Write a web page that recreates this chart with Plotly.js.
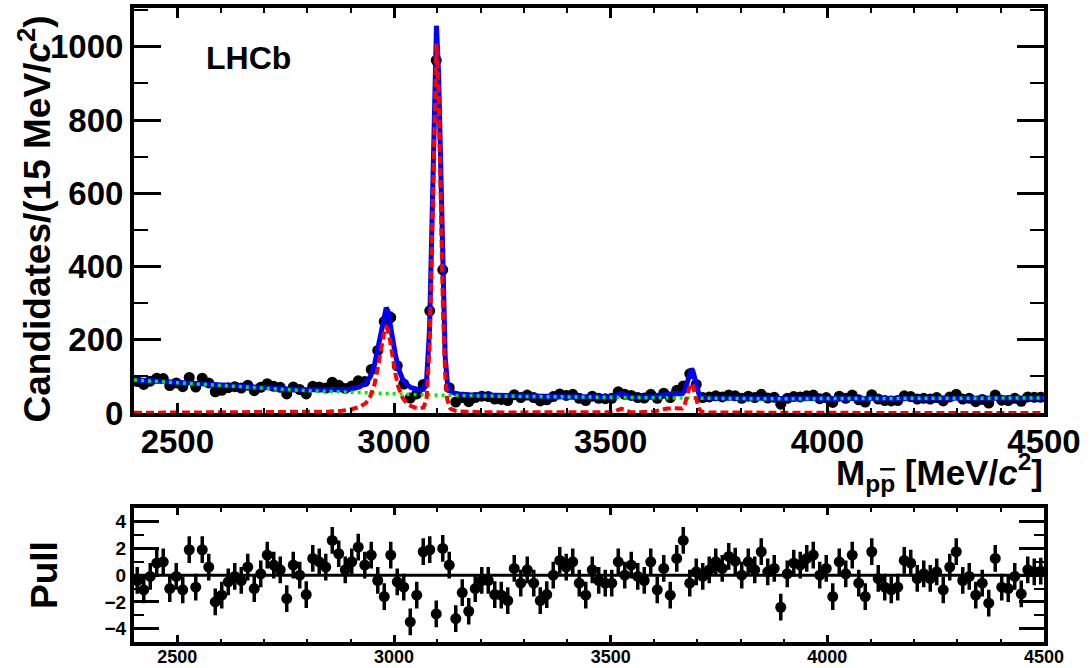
<!DOCTYPE html>
<html>
<head>
<meta charset="utf-8">
<script src="https://cdn.plot.ly/plotly-3.0.1.min.js"></script>
<style>html,body{margin:0;padding:0;background:#fff;}#chart{width:1090px;height:668px;}</style>
</head>
<body>
<div id="chart"></div>
<script>
// Bin centres (15 MeV bins from 2400 to 4500 MeV)
const massBins = [2407.5,2422.5,2437.5,2452.5,2467.5,2482.5,2497.5,2512.5,2527.5,2542.5,
2557.5,2572.5,2587.5,2602.5,2617.5,2632.5,2647.5,2662.5,2677.5,2692.5,
2707.5,2722.5,2737.5,2752.5,2767.5,2782.5,2797.5,2812.5,2827.5,2842.5,
2857.5,2872.5,2887.5,2902.5,2917.5,2932.5,2947.5,2962.5,2977.5,2992.5,
3007.5,3022.5,3037.5,3052.5,3067.5,3082.5,3097.5,3112.5,3127.5,3142.5,
3157.5,3172.5,3187.5,3202.5,3217.5,3232.5,3247.5,3262.5,3277.5,3292.5,
3307.5,3322.5,3337.5,3352.5,3367.5,3382.5,3397.5,3412.5,3427.5,3442.5,
3457.5,3472.5,3487.5,3502.5,3517.5,3532.5,3547.5,3562.5,3577.5,3592.5,
3607.5,3622.5,3637.5,3652.5,3667.5,3682.5,3697.5,3712.5,3727.5,3742.5,
3757.5,3772.5,3787.5,3802.5,3817.5,3832.5,3847.5,3862.5,3877.5,3892.5,
3907.5,3922.5,3937.5,3952.5,3967.5,3982.5,3997.5,4012.5,4027.5,4042.5,
4057.5,4072.5,4087.5,4102.5,4117.5,4132.5,4147.5,4162.5,4177.5,4192.5,
4207.5,4222.5,4237.5,4252.5,4267.5,4282.5,4297.5,4312.5,4327.5,4342.5,
4357.5,4372.5,4387.5,4402.5,4417.5,4432.5,4447.5,4462.5,4477.5,4492.5];

// Candidates per bin
const counts = [86,78,87,95,94,75,82,72,97,71,
95,82,58,62,69,72,68,76,61,70,
80,73,70,52,71,64,52,73,71,68,
84,76,67,74,88,86,119,171,250,261,
129,79,41,52,78,279,963,391,69,30,
42,31,42,46,45,38,37,34,50,42,
49,42,33,36,45,52,48,51,40,34,
46,40,39,40,58,51,48,42,41,51,
40,54,42,62,74,107,78,42,44,47,
44,49,47,40,46,42,51,41,43,24,
40,45,44,47,49,39,42,29,46,40,
49,36,30,50,38,34,33,34,47,45,
38,40,38,42,33,44,51,38,40,31,
37,27,49,35,34,40,32,44,43,43];

// Pull per bin
const pulls = [-0.4,-1.1,-0.1,0.9,1.0,-1.0,-0.1,-1.1,1.9,-0.9,
1.9,0.6,-2.0,-1.5,-0.5,-0.1,-0.4,0.6,-1.0,0.1,
1.5,0.75,0.4,-1.75,0.75,0.0,-1.45,1.25,1.0,0.6,
2.6,1.6,0.4,1.0,2.1,0.75,1.5,-0.4,-1.6,1.5,
-0.5,-0.9,-3.5,-1.5,1.75,1.9,-2.9,2.0,0.75,-3.25,
-1.3,-2.7,-1.0,-0.4,-0.4,-1.45,-1.5,-1.9,0.5,-0.6,
0.4,-0.6,-1.9,-1.45,0.0,1.1,0.6,1.0,-0.6,-1.5,
0.4,-0.4,-0.6,-0.6,1.0,0.0,0.75,-0.1,-0.4,1.0,
-1.1,0.5,-1.5,1.25,2.6,-0.6,0.25,-0.1,0.4,1.0,
0.5,1.4,1.05,0.0,1.0,0.4,1.75,0.25,0.5,-2.4,
0.1,0.9,0.75,1.25,1.5,0.0,0.5,-1.6,1.0,0.1,
1.5,-0.6,-1.6,1.75,-0.25,-0.9,-1.1,-0.9,1.1,0.9,
-0.25,0.1,-0.25,0.25,-1.1,0.6,1.75,-0.4,-0.1,-1.5,
-0.6,-2.1,1.25,-0.9,-1.0,-0.1,-1.4,0.4,0.25,0.3];

// Fit curves sampled along the mass axis
const curveMass = [2400,2450,2500,2550,2600,2650,2700,2750,2800,2850,2880,2900,2920,2935,2945,2955,2962,2968,2974,2979,2982,2986,2991,2997,3003,3010,3020,3030,3040,3050,3060,3068,3075,3082,3088,3093,3098,3103,3108,3113,3118,3123,3130,3140,3150,3175,3200,3250,3300,3350,3400,3450,3480,3495,3505,3515,3525,3535,3545,3560,3580,3600,3615,3630,3645,3655,3665,3670,3675,3680,3684,3687,3690,3694,3698,3703,3708,3715,3730,3760,3800,3900,4000,4100,4200,4300,4400,4500];
const curveTotal = [90.5,86.6,82.7,78.8,75,71.7,68.4,65.9,63.7,62.3,63.3,65.7,71.5,81.4,99,131.5,173.2,212.9,256.7,282.5,287.4,278.2,249,201.7,160.4,122.2,91.9,76.6,68.9,64.5,62.7,64.5,86.3,228.1,558,897.8,1057.7,922.5,617.4,329.2,156.1,83.9,59.7,54,51.7,49.9,48.8,47.4,46.3,45.4,44.5,43.6,43.1,43,44.2,49.4,53.5,49.2,43.9,43.1,43.7,45,48.85,52.7,53.55,52.55,52.45,59.5,77.05,102.7,118.2,120.9,113.9,95.1,73.4,54,45.1,42.1,41.3,40.7,40.1,39.5,39.4,39.5,39.8,40.25,40.7,41.2];
const curveBkg = [90,86,82,78,74,70.5,67,64,61,58.5,57,56,55.1,54.4,54,53.5,53.2,52.9,52.7,52.5,52.4,52.2,52,51.7,51.4,51.2,50.9,50.6,50.3,50,49.7,49.5,49.3,49.1,49,48.8,48.7,48.5,48.4,48.2,48.1,47.9,47.7,47.4,47.2,46.9,46.5,45.8,45,44.3,43.5,42.8,42.4,42.2,42.1,42,41.8,41.7,41.5,41.4,41.2,41,40.85,40.7,40.55,40.45,40.35,40.3,40.25,40.2,40.16,40.13,40.1,40.06,40.02,39.98,39.94,39.9,39.8,39.6,39.3,39,39,39.2,39.5,40,40.5,41];
const curveSig = [0.5,0.6,0.7,0.8,1.0,1.2,1.4,1.9,2.7,3.8,6.3,9.7,16.4,27,45,78,120,160,204,230,235,226,197,150,109,71,41,26,18.6,14.5,13,15,37,179,509,849,1009,874,569,281,108,36,12,6.6,4.5,3,2.3,1.6,1.3,1.1,1.0,0.8,0.7,0.8,2.1,7.4,11.7,7.5,2.4,1.7,2.5,4,8,12,13,12.1,12.1,19.2,36.8,62.5,78,80.8,73.8,55,33.4,14,5.2,2.2,1.5,1.1,0.8,0.5,0.4,0.3,0.3,0.25,0.2,0.2];

const xTickVals = [2500,3000,3500,4000,4500];
const xTickText = ['2500','3000','3500','4000','4500'];

const FONT = 'Liberation Sans, Arial, Helvetica, sans-serif';

const traces = [
  {x: massBins, y: counts, type: 'scatter', mode: 'markers', xaxis: 'x', yaxis: 'y',
   marker: {color: 'black', size: 11},
   error_y: {type: 'sqrt', visible: true, color: 'black', thickness: 3.5, width: 0}},
  {x: curveMass, y: curveTotal, type: 'scatter', mode: 'lines', xaxis: 'x', yaxis: 'y',
   line: {color: '#0000ff', width: 5}},
  {x: curveMass, y: curveBkg, type: 'scatter', mode: 'lines', xaxis: 'x', yaxis: 'y',
   line: {color: '#00ee00', width: 3.5, dash: '3px,4px'}},
  {x: curveMass, y: curveSig, type: 'scatter', mode: 'lines', xaxis: 'x', yaxis: 'y',
   line: {color: '#ff0000', width: 4, dash: '8px,4px'}},
  {x: massBins, y: pulls, type: 'scatter', mode: 'markers', xaxis: 'x2', yaxis: 'y2',
   marker: {color: 'black', size: 11},
   error_y: {type: 'constant', value: 1, visible: true, color: 'black', thickness: 3.5, width: 0}}
];

function axisBase() {
  return {showline: true, linecolor: 'black', linewidth: 4, mirror: 'allticks',
          ticks: 'inside', tickcolor: 'black', showgrid: false, zeroline: false};
}

const layout = {
  width: 1090, height: 668,
  margin: {l: 134, r: 46, t: 8, b: 26, pad: 0},
  paper_bgcolor: 'white', plot_bgcolor: 'white',
  showlegend: false,
  font: {family: FONT, color: 'black'},
  xaxis: Object.assign(axisBase(), {
    domain: [0, 1], anchor: 'y', range: [2400, 4500],
    tickvals: xTickVals, ticktext: xTickText, ticklen: 10, tickwidth: 3,
    ticklabelstandoff: -4,
    minor: {ticks: 'inside', ticklen: 5, tickwidth: 2, dtick: 100, tick0: 2400, tickcolor: 'black'},
    tickfont: {family: FONT, size: 33, weight: 'bold', color: 'black'}
  }),
  yaxis: Object.assign(axisBase(), {
    domain: [0.3612, 1], anchor: 'x', range: [0, 1106],
    dtick: 200, tick0: 0, ticklen: 27, tickwidth: 3,
    minor: {ticks: 'inside', ticklen: 14, tickwidth: 2, dtick: 100, tick0: 0, tickcolor: 'black'},
    tickfont: {family: FONT, size: 33, weight: 'bold', color: 'black'}
  }),
  xaxis2: Object.assign(axisBase(), {
    domain: [0, 1], anchor: 'y2', range: [2400, 4500],
    tickvals: xTickVals, ticktext: xTickText, ticklen: 7, tickwidth: 3,
    ticklabelstandoff: -5,
    minor: {ticks: 'inside', ticklen: 3.5, tickwidth: 2, dtick: 100, tick0: 2400, tickcolor: 'black'},
    tickfont: {family: FONT, size: 18, weight: 'bold', color: 'black'}
  }),
  yaxis2: Object.assign(axisBase(), {
    domain: [0, 0.2109], anchor: 'x2', range: [-5, 5],
    dtick: 2, tick0: 0, ticklen: 25, tickwidth: 3,
    minor: {ticks: 'inside', ticklen: 10, tickwidth: 2, dtick: 1, tick0: 0, tickcolor: 'black'},
    tickfont: {family: FONT, size: 19, weight: 'bold', color: 'black'}
  }),
  shapes: [
    {type: 'line', xref: 'x2 domain', x0: 0, x1: 1, yref: 'y2', y0: 0, y1: 0,
     line: {color: 'black', width: 3}, layer: 'below'}
  ],
  annotations: [
    {text: 'Candidates/(15 MeV/<i>c</i><sup>2</sup>)', xref: 'paper', yref: 'paper',
     x: -0.1088, y: 0.668, xanchor: 'center', yanchor: 'middle', textangle: -90, showarrow: false,
     font: {family: FONT, size: 37, weight: 'bold', color: 'black'}},
    {text: 'LHCb', xref: 'paper', yref: 'paper', x: 0.0769, y: 0.9211,
     xanchor: 'left', yanchor: 'middle', showarrow: false,
     font: {family: FONT, size: 32, weight: 'bold', color: 'black'}},
    {text: "M<sub>p<span style='text-decoration:overline'>p</span></sub> [MeV/<i>c</i><sup>2</sup>]",
     xref: 'paper', yref: 'paper', x: 1.0011, y: 0.2681,
     xanchor: 'right', yanchor: 'middle', showarrow: false,
     font: {family: FONT, size: 35, weight: 'bold', color: 'black'}},
    {text: 'Pull', xref: 'paper', yref: 'paper', x: -0.0978, y: 0.1057,
     xanchor: 'center', yanchor: 'middle', textangle: -90, showarrow: false,
     font: {family: FONT, size: 37, weight: 'bold', color: 'black'}}
  ]
};

Plotly.newPlot('chart', traces, layout, {staticPlot: true, displayModeBar: false});
</script>
</body>
</html>
